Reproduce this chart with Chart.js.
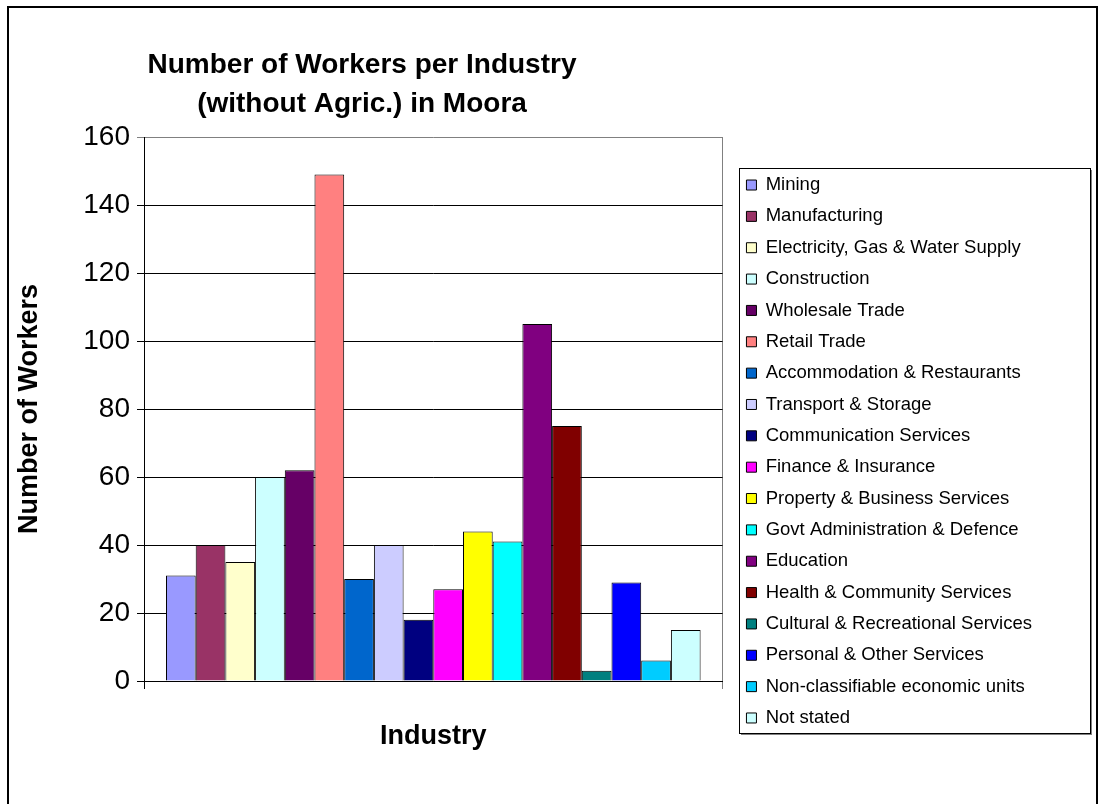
<!DOCTYPE html>
<html>
<head>
<meta charset="utf-8">
<title>Number of Workers per Industry</title>
<script src="https://cdn.jsdelivr.net/npm/chart.js@4/dist/chart.umd.min.js"></script>
<style>
    body { margin: 0; background: #fff; }
    .chart-box { width: 1100px; height: 804px; position: relative; }
</style>
</head>
<body>
<div class="chart-box">
    <canvas id="bar-chart"></canvas>
</div>
<script>
const industries = [
    'Mining',
    'Manufacturing',
    'Electricity, Gas & Water Supply',
    'Construction',
    'Wholesale Trade',
    'Retail Trade',
    'Accommodation & Restaurants',
    'Transport & Storage',
    'Communication Services',
    'Finance & Insurance',
    'Property & Business Services',
    'Govt Administration & Defence',
    'Education',
    'Health & Community Services',
    'Cultural & Recreational Services',
    'Personal & Other Services',
    'Non-classifiable economic units',
    'Not stated'
];
const workers = [31, 40, 35, 60, 62, 149, 30, 40, 18, 27, 44, 41, 105, 75, 3, 29, 6, 15];
const barColours = [
    '#9999FF', '#993366', '#FFFFCC', '#CCFFFF', '#660066', '#FF8080',
    '#0066CC', '#CCCCFF', '#000080', '#FF00FF', '#FFFF00', '#00FFFF',
    '#800080', '#800000', '#008080', '#0000FF', '#00CCFF', '#CCFFFF'
];
const yMin = 0;
const yMax = 160;
const yStep = 20;

const titleLines = ['Number of Workers per Industry', '(without Agric.) in Moora'];

Chart.defaults.font.family = "'Liberation Sans', Arial, sans-serif";
Chart.defaults.color = '#000';

// outer frame, chart title and the boxed legend background
const frameAndTitle = {
    id: 'frameAndTitle',
    beforeDraw(chart) {
        const ctx = chart.ctx;
        ctx.save();
        ctx.strokeStyle = '#000';
        ctx.lineWidth = 2;
        ctx.strokeRect(8, 7, 1089, 820);

        // legend box with a grey drop shadow
        const legend = chart.legend;
        const boxes = legend.legendHitBoxes;
        if (boxes.length) {
            const pad = legend.options.labels.padding;
            const left = Math.round(legend.left + pad - 7);
            const top = Math.round(boxes[0].top - 8);
            const last = boxes[boxes.length - 1];
            const bottom = Math.round(last.top + last.height + 6);
            const width = 351;
            ctx.fillStyle = '#808080';
            ctx.fillRect(left + 2, top + 2, width, bottom - top);
            ctx.fillStyle = '#fff';
            ctx.fillRect(left, top, width, bottom - top);
            ctx.lineWidth = 1;
            ctx.strokeStyle = '#000';
            ctx.strokeRect(left + 0.5, top + 0.5, width, bottom - top);
        }

        ctx.fillStyle = '#000';
        ctx.font = "bold 28px 'Liberation Sans', Arial, sans-serif";
        ctx.textAlign = 'center';
        ctx.textBaseline = 'alphabetic';
        ctx.fillText(titleLines[0], 362, 73);
        ctx.fillText(titleLines[1], 362, 112);
        ctx.restore();
    }
};

const datasets = industries.map((name, i) => ({
    label: name,
    data: [workers[i]],
    backgroundColor: barColours[i],
    borderColor: '#000',
    borderWidth: 1,
    categoryPercentage: 0.924,
    barPercentage: 1
}));

const chart = document.getElementById('bar-chart').getContext('2d');
const myChart = new Chart(chart, {
    type: 'bar',
    data: {
        labels: [''],
        datasets: datasets
    },
    options: {
        responsive: true,
        maintainAspectRatio: false,
        animation: false,
        layout: {
            padding: { left: 10, top: 137, right: 58, bottom: 38 }
        },
        scales: {
            x: {
                offset: true,
                grid: {
                    offset: true,
                    drawTicks: true,
                    tickLength: 8,
                    color: (c) => c.index === 0 ? '#000' : '#808080'
                },
                border: { color: '#000', width: 1 },
                ticks: { display: false },
                title: {
                    display: true,
                    text: 'Industry',
                    font: { size: 27, weight: 'bold' },
                    padding: { top: 0, bottom: 13 }
                },
                afterFit(scale) {
                    scale.height = 85;
                }
            },
            y: {
                min: yMin,
                max: yMax,
                ticks: {
                    stepSize: yStep,
                    padding: 7,
                    font: { size: 28 }
                },
                grid: {
                    tickLength: 7,
                    color: (c) => c.tick && c.tick.value === yMax ? '#808080' : '#000'
                },
                border: { color: '#000', width: 1 },
                title: {
                    display: true,
                    text: 'Number of Workers',
                    font: { size: 27, weight: 'bold' },
                    padding: { top: 3, bottom: 0 }
                },
                afterFit(scale) {
                    scale.width = 134;
                }
            },
            // spacer between the plot and the legend
            yGap: {
                type: 'linear',
                position: 'right',
                display: true,
                grid: { display: false, drawTicks: false },
                border: { display: false },
                ticks: { display: false },
                afterFit(scale) {
                    scale.width = 11;
                }
            }
        },
        plugins: {
            title: { display: false },
            tooltip: { enabled: false },
            legend: {
                display: true,
                position: 'right',
                align: 'center',
                maxWidth: 420,
                labels: {
                    boxWidth: 10,
                    boxHeight: 10,
                    padding: 12.85,
                    color: '#000',
                    font: { size: 18.5 }
                }
            }
        }
    },
    plugins: [frameAndTitle]
});
</script>
</body>
</html>
